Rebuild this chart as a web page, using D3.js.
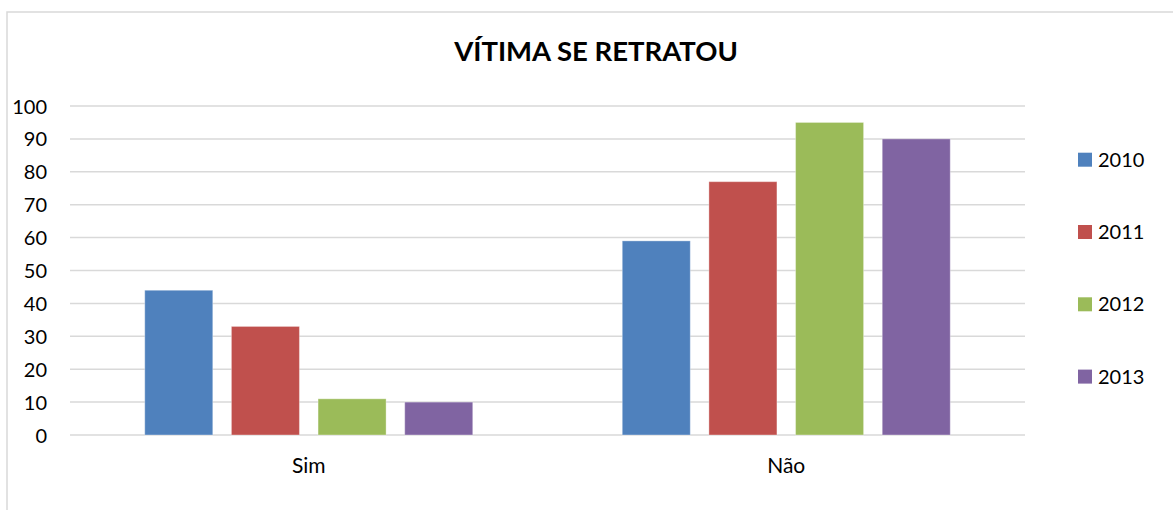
<!DOCTYPE html>
<html><head><meta charset="utf-8">
<script src="https://cdn.jsdelivr.net/npm/d3@7"></script>
<style>
html,body{margin:0;padding:0;background:#fff;}
svg{display:block;font-family:Lato,"Open Sans",sans-serif;}
</style></head>
<body>
<svg id="chart" width="1173" height="510"></svg>
<script>
const title = "VÍTIMA SE RETRATOU";
const categories = ["Sim", "Não"];
const seriesNames = ["2010", "2011", "2012", "2013"];
const values2010 = [44, 59];
const values2011 = [33, 77];
const values2012 = [11, 95];
const values2013 = [10, 90];
const colors = ["#4F81BD", "#C0504D", "#9BBB59", "#8064A2"];
const yTicks = [0, 10, 20, 30, 40, 50, 60, 70, 80, 90, 100];

const seriesValues = [values2010, values2011, values2012, values2013];

(function () {
const svg = d3.select("#chart");
const W = 1173, H = 510;
const pLeft = 70, pRight = 1025, pTop = 106, pBottom = 435;

svg.append("rect").attr("x", 7).attr("y", 12).attr("width", W + 20).attr("height", H + 20)
  .attr("fill", "#fff").attr("stroke", "#d9d9d9").attr("stroke-width", 1.5);

const x0 = d3.scaleBand().domain(categories).range([pLeft, pRight]).paddingInner(0).paddingOuter(0);
const x1 = d3.scaleBand().domain(seriesNames).range([74.75, x0.bandwidth() - 74.75]).paddingInner(0.215).paddingOuter(0);
const y = d3.scaleLinear().domain([0, 100]).range([pBottom, pTop]);

// gridlines
svg.append("g").selectAll("line").data(yTicks).join("line")
  .attr("x1", pLeft).attr("x2", pRight)
  .attr("y1", d => y(d)).attr("y2", d => y(d))
  .attr("stroke", "#d9d9d9").attr("stroke-width", 1.5);

// y axis labels
const yAxis = d3.axisLeft(y).tickValues(yTicks).tickSize(0).tickPadding(0);
const gy = svg.append("g").attr("transform", `translate(47,0)`).call(yAxis);
gy.select(".domain").remove();
gy.selectAll("text").attr("font-size", 20).attr("fill", "#000").attr("font-family", "Lato").attr("dy", "0.35em");

// bars
const groups = svg.append("g").selectAll("g").data(categories).join("g")
  .attr("transform", d => `translate(${x0(d)},0)`);
groups.selectAll("rect").data((c, ci) => seriesNames.map((s, si) => ({s, si, v: seriesValues[si][ci]})))
  .join("rect")
  .attr("x", d => x1(d.s)).attr("width", x1.bandwidth())
  .attr("y", d => y(d.v)).attr("height", d => y(0) - y(d.v))
  .attr("fill", d => colors[d.si])
  .attr("stroke", "rgba(255,255,255,0.35)").attr("stroke-width", 1);

// x axis labels
const xAxis = d3.axisBottom(x0).tickSize(0).tickPadding(0);
const gx = svg.append("g").attr("transform", `translate(0,${pBottom})`).call(xAxis);
gx.select(".domain").remove();
gx.selectAll("text").attr("font-size", 21).attr("fill", "#000").attr("font-family", "Lato")
  .attr("dy", "0").attr("y", 38);

// title
svg.append("text").attr("x", 596).attr("y", 61).attr("text-anchor", "middle")
  .attr("font-size", 27.5).attr("font-weight", "bold").attr("fill", "#000").text(title);

// legend
const lg = svg.append("g").selectAll("g").data(seriesNames).join("g")
  .attr("transform", (d, i) => `translate(1078,${152.7 + i * 72.3})`);
lg.append("rect").attr("width", 14).attr("height", 14).attr("fill", (d, i) => colors[i]);
lg.append("text").attr("x", 20).attr("y", 7).attr("dy", "0.35em")
  .attr("font-size", 20).attr("fill", "#000").text(d => d);
})();
</script>
</body></html>
